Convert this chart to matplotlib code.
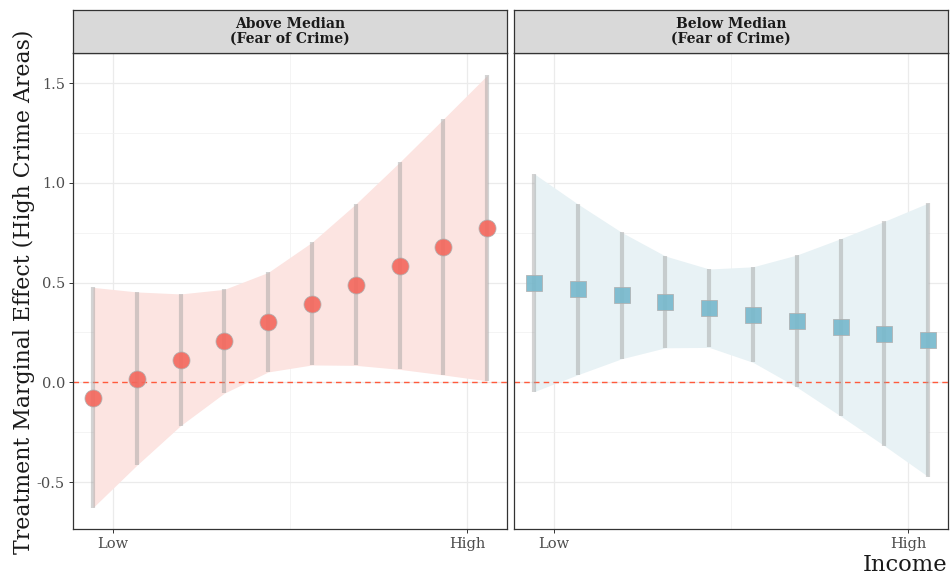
import numpy as np
import matplotlib
matplotlib.use("Agg")
import matplotlib.pyplot as plt
from matplotlib.ticker import FixedLocator

plt.rcParams['font.family'] = ['DejaVu Serif']
plt.rcParams['axes.unicode_minus'] = False

# income levels (1 = lowest decile ... 10 = highest)
income = [1, 2, 3, 4, 5, 6, 7, 8, 9, 10]

# Above median fear of crime
above_est = [-0.077, 0.018, 0.112, 0.207, 0.301, 0.394, 0.488, 0.585, 0.678, 0.772]
above_lo = [-0.628, -0.416, -0.217, -0.054, 0.052, 0.087, 0.085, 0.065, 0.037, 0.007]
above_hi = [0.476, 0.453, 0.443, 0.466, 0.551, 0.702, 0.894, 1.103, 1.320, 1.539]

# Below median fear of crime
below_est = [0.498, 0.468, 0.436, 0.403, 0.371, 0.339, 0.307, 0.276, 0.242, 0.210]
below_lo = [-0.047, 0.038, 0.118, 0.173, 0.175, 0.100, -0.024, -0.169, -0.318, -0.473]
below_hi = [1.046, 0.894, 0.752, 0.633, 0.568, 0.579, 0.638, 0.720, 0.807, 0.899]

panels = ["Above Median\n(Fear of Crime)", "Below Median\n(Fear of Crime)"]
x_ticks = [1.45, 9.55]
x_ticklabels = ["Low", "High"]
y_ticks = [-0.5, 0.0, 0.5, 1.0, 1.5]


def draw_panel(ax, est, lo, hi, color, fill, marker, size):
    ax.fill_between(income, lo, hi, color=fill, lw=0, zorder=1)
    ax.axhline(0, color='#FF5A3C', ls=(0, (4, 3)), lw=1, zorder=2)
    ax.vlines(income, lo, hi, color='#9E9E9E', alpha=0.45, lw=3, zorder=3)
    ax.scatter(income, est, s=size, marker=marker, color=color,
               edgecolor='#B0B0B0', linewidth=0.6, alpha=0.9, zorder=4)

    ax.set_xlim(0.55, 10.45)
    ax.set_ylim(-0.734, 1.651)
    ax.xaxis.set_major_locator(FixedLocator(x_ticks))
    ax.xaxis.set_minor_locator(FixedLocator([5.5]))
    ax.set_xticklabels(x_ticklabels)
    ax.yaxis.set_major_locator(FixedLocator(y_ticks))
    ax.yaxis.set_minor_locator(FixedLocator([-0.25, 0.25, 0.75, 1.25]))
    ax.grid(True, which='major', color='#EBEBEB', lw=0.9, zorder=0)
    ax.grid(True, which='minor', color='#F2F2F2', lw=0.6, zorder=0)
    ax.set_axisbelow(True)
    ax.tick_params(which='major', length=3, width=0.7, color='#333333',
                   labelcolor='#4D4D4D', labelsize=10.5, pad=3)
    ax.tick_params(which='minor', length=0)
    for sp in ax.spines.values():
        sp.set_color('#333333')
        sp.set_linewidth(0.9)


fig = plt.figure(figsize=(9.5, 5.77), dpi=100)
W, H = 950, 577
lefts = [73.3, 514.3]
pw = 433.6
top, bottom = 53, 528.7

axes = []
for i, left in enumerate(lefts):
    ax = fig.add_axes([left / W, 1 - bottom / H, pw / W, (bottom - top) / H])
    axes.append(ax)
    strip = fig.add_axes([left / W, 1 - top / H, pw / W, 43 / H])
    strip.set_facecolor('#D9D9D9')
    strip.set_xticks([])
    strip.set_yticks([])
    for sp in strip.spines.values():
        sp.set_color('#333333')
        sp.set_linewidth(0.9)
    strip.text(0.5, 0.5, panels[i], ha='center', va='center',
               fontsize=10, fontweight='bold', color='#1A1A1A', linespacing=1.0)

draw_panel(axes[0], above_est, above_lo, above_hi, '#F4675C', '#FCE4E1', 'o', 150)
draw_panel(axes[1], below_est, below_lo, below_hi, '#76B8CC', '#E8F2F5', 's', 120)
axes[1].set_yticklabels([])
axes[1].tick_params(axis='y', length=0)

fig.text(24 / W, 1 - 292 / H,
         "Treatment Marginal Effect (High Crime Areas)", rotation=90,
         ha='center', va='center', fontsize=15.8, color='#1A1A1A')
fig.text(947 / W, 1 - 571 / H, "Income", ha='right', va='baseline',
         fontsize=16.3, color='#1A1A1A')

fig.savefig("out.png", dpi=100)
